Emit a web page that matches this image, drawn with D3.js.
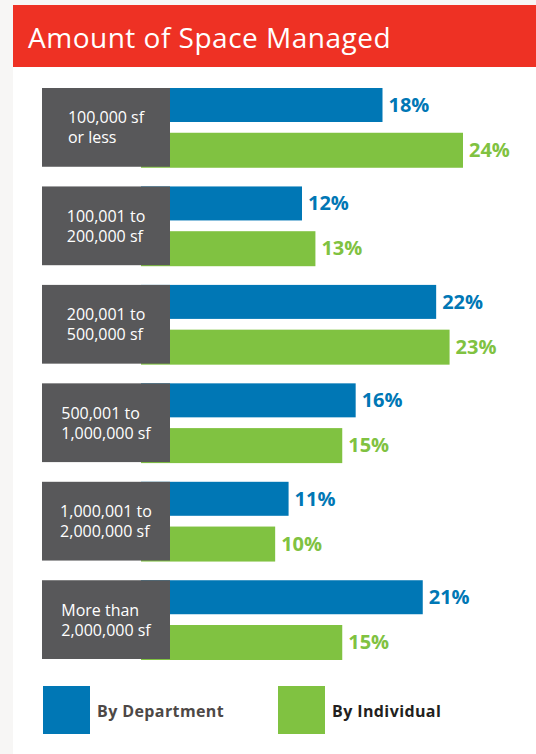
<!DOCTYPE html>
<html>
<head>
<meta charset="utf-8">
<script src="https://cdn.jsdelivr.net/npm/d3@7"></script>
<style>
  body { margin: 0; background: #f7f6f5; }
  svg { display: block; font-family: "Open Sans", Roboto, sans-serif; }
</style>
</head>
<body>
<script>
// data
const categories = [
  ["100,000 sf", "or less"],
  ["100,001 to", "200,000 sf"],
  ["200,001 to", "500,000 sf"],
  ["500,001 to", "1,000,000 sf"],
  ["1,000,001 to", "2,000,000 sf"],
  ["More than", "2,000,000 sf"]
];
const byDepartment = [18, 12, 22, 16, 11, 21];
const byIndividual = [24, 13, 23, 15, 10, 15];
const seriesNames = ["By Department", "By Individual"];

const W = 536, H = 754;
const blue = "#0077b5", green = "#80c241", grey = "#58585a";

const svg = d3.select("body").append("svg").attr("width", W).attr("height", H);

// white panel + red title band
svg.append("rect").attr("x", 13).attr("y", 5).attr("width", W - 13).attr("height", H - 5).attr("fill", "#fff");
svg.append("rect").attr("x", 13).attr("y", 5).attr("width", W - 13).attr("height", 62).attr("fill", "#ee3124");
svg.append("text").attr("x", 28).attr("y", 48).attr("fill", "#fff")
  .attr("font-size", 28).attr("letter-spacing", 0.5).text("Amount of Space Managed");

// scales
const y = d3.scaleBand().domain(d3.range(categories.length)).range([88, 659]).paddingInner(0.2).paddingOuter(0);
const x = d3.scaleLinear().domain([0, 24]).range([141, 463]);
const boxL = 42, boxR = 170;

const g = svg.selectAll("g.grp").data(categories).join("g").attr("class", "grp")
  .attr("transform", (d, i) => `translate(0,${y(i)})`);

const bh = y.bandwidth();
const barH = 34;

g.append("rect").attr("x", x(0)).attr("y", 0).attr("height", barH)
  .attr("width", (d, i) => x(byDepartment[i]) - x(0)).attr("fill", blue);
g.append("rect").attr("x", x(0)).attr("y", bh - barH).attr("height", barH + 1)
  .attr("width", (d, i) => x(byIndividual[i]) - x(0)).attr("fill", green);

g.append("text").attr("x", (d, i) => x(byDepartment[i]) + 6).attr("y", barH / 2 + 7)
  .attr("fill", blue).attr("font-weight", 700).attr("font-size", 20)
  .text((d, i) => byDepartment[i] + "%");
g.append("text").attr("x", (d, i) => x(byIndividual[i]) + 6).attr("y", bh - barH / 2 + 7)
  .attr("fill", green).attr("font-weight", 700).attr("font-size", 20)
  .text((d, i) => byIndividual[i] + "%");

g.append("rect").attr("x", boxL).attr("y", 0).attr("width", boxR - boxL).attr("height", bh).attr("fill", grey);

g.each(function (d) {
  const t = d3.select(this).append("text").attr("fill", "#fff").attr("font-size", 16);
  t.selectAll("tspan").data(d).join("tspan")
    .attr("y", (s, k) => bh / 2 - 4 + k * 20).text(s => s);
  const w = d3.max(t.selectAll("tspan").nodes(), n => n.getComputedTextLength());
  t.selectAll("tspan").attr("x", (boxL + boxR) / 2 - w / 2);
});

// legend
const leg = svg.selectAll("g.leg").data(seriesNames).join("g").attr("class", "leg")
  .attr("transform", (d, i) => `translate(${i ? 278 : 43},686)`);
leg.append("rect").attr("width", 47).attr("height", 48).attr("fill", (d, i) => i ? green : blue);
leg.append("text").attr("x", 54).attr("y", 31).attr("font-size", 16).attr("font-weight", 700)
  .attr("letter-spacing", 0.4)
  .attr("fill", (d, i) => i ? "#231f20" : "#4d4846").text(d => d);
</script>
</body>
</html>
